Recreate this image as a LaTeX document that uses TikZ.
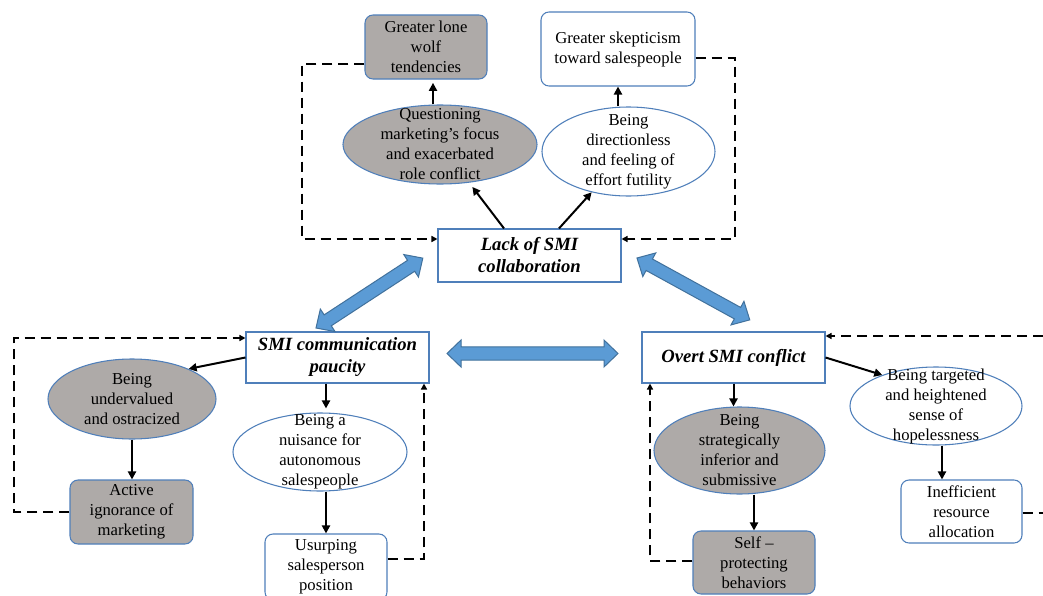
\documentclass[tikz,border=0pt]{standalone}
\usepackage{fontspec}
\setmainfont{Liberation Serif}
\usetikzlibrary{arrows.meta,shapes.geometric,calc}
\definecolor{bordc}{HTML}{4F7FBA}
\definecolor{grayc}{HTML}{AEAAA8}
\definecolor{fatc}{HTML}{5B9BD5}
\definecolor{fatb}{HTML}{41719C}
\newcommand\txtf{\fontsize{12.5pt}{15pt}\selectfont}
\newcommand\hdf{\fontsize{14pt}{16.5pt}\selectfont\bfseries\itshape}
\newcommand\fatarrow[2]{%
  \fill[fatc, draw=fatb, line width=0.75pt, line join=miter]
  let \p1=(#1), \p2=(#2), \n1={atan2(\y2-\y1,\x2-\x1)}, \n2={veclen(\x2-\x1,\y2-\y1)} in
  {[shift={(\p1)}, rotate=\n1]
   (0pt,0pt) -- (10.5pt,10.1pt) -- (10.5pt,4.9pt) -- (\n2-10.5pt,4.9pt) -- (\n2-10.5pt,10.1pt)
   -- (\n2,0pt) -- (\n2-10.5pt,-10.1pt) -- (\n2-10.5pt,-4.9pt) -- (10.5pt,-4.9pt) -- (10.5pt,-10.1pt) -- cycle};}
\tikzset{
  bx/.style={draw=bordc, line width=0.8pt, align=center, inner sep=0pt, font=\txtf},
  sq/.style={bx, rectangle, fill=white, font=\hdf},
  rb/.style={bx, rectangle, rounded corners=6pt},
  el/.style={bx, ellipse},
  lb/.style={font=\txtf, align=center, inner sep=0pt},
  arr/.style={line width=1.5pt, -{Triangle[length=6pt,width=6pt]}},
  dsh/.style={line width=1.1pt, dash pattern=on 7.5pt off 4.5pt, -{Triangle[length=4.5pt,width=4.5pt]}},
}
\begin{document}
\begin{tikzpicture}[x=0.75pt,y=-0.75pt]
\fill[white] (0,0) rectangle (1043,596);
\useasboundingbox (0,0) rectangle (1043,596);

% top part
\node[sq, minimum width=137.25pt, minimum height=39.75pt] (lack) at (529.5,255.5) {Lack of SMI\\collaboration};
\node[rb, fill=grayc, minimum width=91.5pt, minimum height=48pt] (lone) at (426,47) {Greater lone\\wolf\\tendencies};
\node[rb, fill=white, minimum width=115.5pt, minimum height=55.5pt] (skep) at (618,49) {Greater skepticism\\toward salespeople};
\node[el, fill=grayc, minimum width=145.5pt, minimum height=59.25pt,
      label={[lb]center:Questioning\\marketing’s focus\\and exacerbated\\role conflict}] (quest) at (440,144.5) {};
\node[el, fill=white, minimum width=129.75pt, minimum height=66.75pt,
      label={[lb]center:Being\\directionless\\and feeling of\\effort futility}] (dirl) at (628.5,151.5) {};

% left part
\node[sq, minimum width=137.25pt, minimum height=38.25pt] (comm) at (337.5,357.5) {SMI communication\\paucity};
\node[el, fill=grayc, minimum width=126pt, minimum height=60pt,
      label={[lb]center:Being\\undervalued\\and ostracized}] (underv) at (132,399) {};
\node[rb, fill=grayc, minimum width=92.25pt, minimum height=48pt] (active) at (131.5,512) {Active\\ignorance of\\marketing};
\node[el, fill=white, minimum width=130.5pt, minimum height=58.5pt,
      label={[lb]center:Being a\\nuisance for\\autonomous\\salespeople}] (nuis) at (320,452) {};
\node[rb, fill=white, minimum width=91.5pt, minimum height=49.5pt] (usurp) at (326,567) {Usurping\\salesperson\\position};

% right part
\node[sq, minimum width=137.25pt, minimum height=38.25pt] (overt) at (733.5,357.5) {Overt SMI conflict};
\node[el, fill=grayc, minimum width=128.25pt, minimum height=65.25pt,
      label={[lb]center:Being\\strategically\\inferior and\\submissive}] (strat) at (739.5,450.5) {};
\node[rb, fill=grayc, minimum width=91.5pt, minimum height=47.25pt] (selfp) at (754,562.5) {Self –\\protecting\\behaviors};
\node[el, fill=white, minimum width=129pt, minimum height=58.5pt,
      label={[lb]center:Being targeted\\and heightened\\sense of\\hopelessness}] (targ) at (936,406) {};
\node[rb, fill=white, minimum width=90.75pt, minimum height=47.25pt] (ineff) at (961.5,511.5) {Inefficient\\resource\\allocation};

% solid arrows
\draw[arr, shorten >=2.5pt] ([xshift=-5.25pt]quest.north) -- ([xshift=-5.25pt]quest.north |- lone.south);
\draw[arr] (dirl.north -| skep.south) -- (skep.south);
\draw[arr, shorten >=4pt] ([xshift=-19.1pt]lack.north) -- (quest);
\draw[arr] ([xshift=22.1pt]lack.north) -- (dirl);
\draw[arr] (comm.west) -- (underv.28);
\draw[arr, shorten >=3pt] (comm.south -| usurp.north) -- (nuis.north -| usurp.north);
\draw[arr] (nuis.south -| usurp.north) -- (usurp.north);
\draw[arr] (underv.south) -- (underv.south |- active.north);
\draw[arr] (overt.south) -- (overt.south |- strat.north);
\draw[arr] (strat.south -| selfp.north) -- (selfp.north);
\draw[arr] (overt.east) -- (targ.150);
\draw[arr] ([xshift=4.5pt]targ.south) -- ([xshift=4.5pt]targ.south |- ineff.north);

% dashed feedback loops
\coordinate (d1) at (302,64);
\coordinate (d2) at (302,239);
\draw[dsh] (lone.west |- d1) -- (d1) -- (d2) -- (lack.west |- d2);
\coordinate (d3) at (735,58);
\coordinate (d4) at (735,239);
\draw[dsh] (skep.east |- d3) -- (d3) -- (d4) -- (lack.east |- d4);
\coordinate (d5) at (14,512);
\coordinate (d6) at (14,338);
\draw[dsh] (active.west) -- (d5) -- (d6) -- (comm.west |- d6);
\coordinate (d7) at (424,559);
\draw[dsh] (usurp.east |- d7) -- (d7) -- (comm.south -| d7);
\coordinate (d8) at (650,561);
\draw[dsh] (selfp.west |- d8) -- (d8) -- (overt.south -| d8);
\coordinate (d9) at (1043,336);
\draw[dsh] (d9) -- (overt.east |- d9);
\coordinate (d10) at (1043,513);
\draw[dsh, -] (ineff.east |- d10) -- (d10);

% thick blue double arrows
\coordinate (f1a) at (316,328);
\coordinate (f1b) at (423,258);
\coordinate (f2a) at (447,353.5);
\coordinate (f2b) at (618,353.5);
\coordinate (f3a) at (637,258);
\coordinate (f3b) at (750,320);
\fatarrow{f1a}{f1b}
\fatarrow{f2a}{f2b}
\fatarrow{f3a}{f3b}
\end{tikzpicture}
\end{document}
